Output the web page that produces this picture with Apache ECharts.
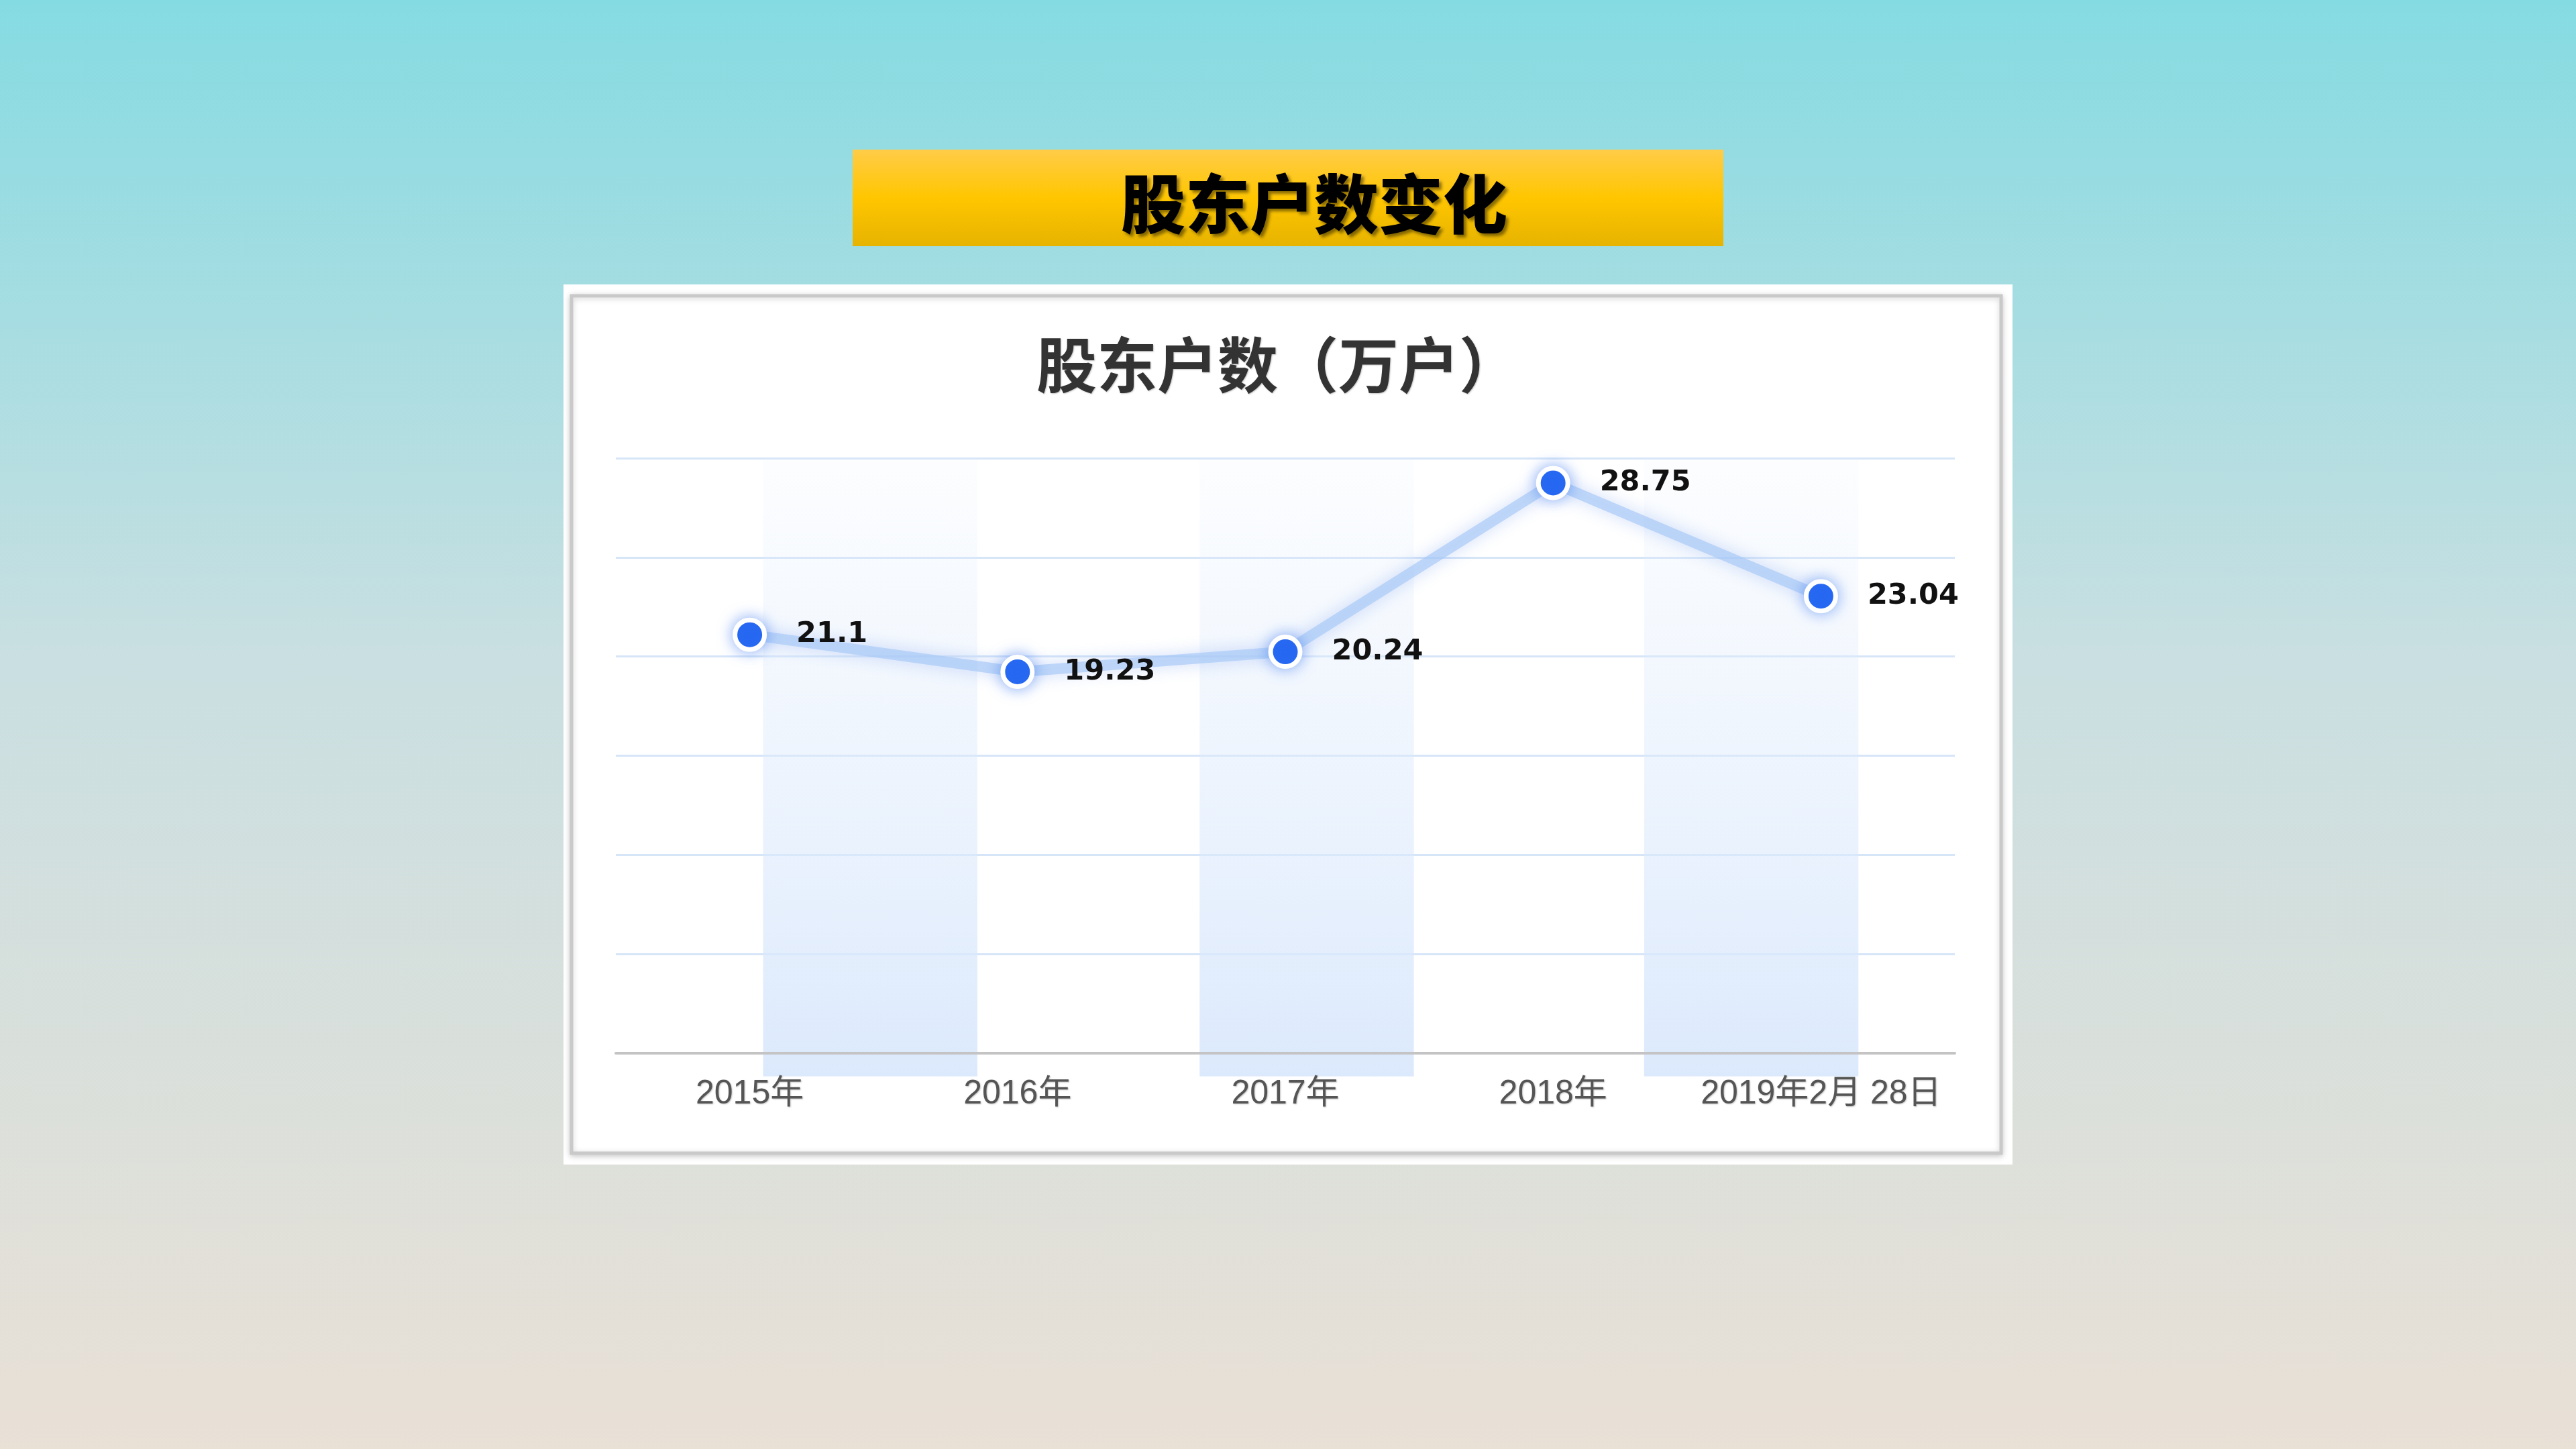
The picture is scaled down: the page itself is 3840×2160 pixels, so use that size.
<!DOCTYPE html>
<html>
<head>
<meta charset="utf-8">
<title>股东户数变化</title>
<script src="https://cdn.jsdelivr.net/npm/echarts@6/dist/echarts.min.js"></script>
<style>
  html, body { margin: 0; padding: 0; }
  #main { width: 3840px; height: 2160px; }
</style>
</head>
<body>
<div id="main"></div>
<script>
// 数据
const pageTitle = '股东户数变化';
const chartTitle = '股东户数（万户）';
const categories = ['2015年', '2016年', '2017年', '2018年', '2019年2月 28日'];
const holders = [21.1, 19.23, 20.24, 28.75, 23.04];
// 背景浅蓝色柱（按类目序号计的起止位置）
const bandRanges = [[0.05, 0.85], [1.68, 2.48], [3.34, 4.14]];
const yTicks = [0, 5, 10, 15, 20, 25, 30];

const cjk = '"Noto Sans CJK SC", "Noto Sans", sans-serif';

const chart = echarts.init(document.getElementById('main'));

chart.setOption({
  backgroundColor: new echarts.graphic.LinearGradient(0, 0, 0, 1, [
    { offset: 0, color: '#85dbe2' },
    { offset: 0.45, color: '#c9dfe1' },
    { offset: 1, color: '#e9e0d6' }
  ]),
  animation: false,
  graphic: [
    // 标题条
    {
      type: 'rect', z: 0,
      shape: { x: 1271, y: 223, width: 1298, height: 144 },
      style: {
        fill: new echarts.graphic.LinearGradient(0, 0, 0, 1, [
          { offset: 0, color: '#ffcc48' },
          { offset: 0.5, color: '#ffc600' },
          { offset: 1, color: '#e6b300' }
        ])
      }
    },
    // 白色卡片
    {
      type: 'rect', z: 0,
      shape: { x: 840, y: 424, width: 2160, height: 1312 },
      style: { fill: '#ffffff' }
    },
    {
      type: 'rect', z: 0,
      shape: { x: 852, y: 441, width: 2131, height: 1278 },
      style: {
        fill: '#ffffff', stroke: '#c9c9c9', lineWidth: 5,
        shadowBlur: 8, shadowColor: 'rgba(0,0,0,0.18)', shadowOffsetY: 2
      }
    }
  ],
  title: [
    {
      text: pageTitle,
      left: 1954, top: 299, textAlign: 'center', textVerticalAlign: 'middle',
      textStyle: {
        fontFamily: cjk, fontSize: 96, fontWeight: 900, color: '#000',
        textShadowColor: 'rgba(0,0,0,0.45)', textShadowBlur: 4,
        textShadowOffsetX: 4, textShadowOffsetY: 4
      }
    },
    {
      text: chartTitle,
      left: 1900, top: 539, textAlign: 'center', textVerticalAlign: 'middle',
      textStyle: {
        fontFamily: cjk, fontSize: 90, fontWeight: 'bold', color: '#333',
        textShadowColor: 'rgba(0,0,0,0.25)', textShadowBlur: 2,
        textShadowOffsetX: 1, textShadowOffsetY: 1
      }
    }
  ],
  grid: { left: 918, right: 926, top: 683, bottom: 590 },
  xAxis: [
    {
      type: 'category',
      data: categories,
      boundaryGap: true,
      axisTick: { show: false },
      axisLine: { lineStyle: { color: '#c4c4c4', width: 4 } },
      axisLabel: {
        interval: 0,
        hideOverlap: false,
        margin: 36,
        fontFamily: '"Liberation Sans", Arial, ' + cjk,
        fontSize: 50,
        color: '#555',
        textShadowColor: 'rgba(0,0,0,0.25)', textShadowBlur: 2,
        textShadowOffsetX: 1, textShadowOffsetY: 1
      },
      splitLine: { show: false },
      z: 3
    },
    {
      type: 'value',
      min: -0.5, max: categories.length - 0.5,
      show: false
    }
  ],
  yAxis: {
    type: 'value',
    min: yTicks[0], max: yTicks[yTicks.length - 1], interval: 5,
    axisLabel: { show: false },
    axisLine: { show: false },
    axisTick: { show: false },
    splitLine: { lineStyle: { color: '#d6e5f8', width: 3 } }
  },
  series: [
    {
      type: 'custom',
      xAxisIndex: 1,
      clip: false,
      z: 1,
      data: bandRanges,
      renderItem: function (params, api) {
        const p0 = api.coord([api.value(0), yTicks[yTicks.length - 1]]);
        const p1 = api.coord([api.value(1), -1.17]);
        return {
          type: 'rect',
          shape: { x: p0[0], y: p0[1], width: p1[0] - p0[0], height: p1[1] - p0[1] },
          style: {
            fill: new echarts.graphic.LinearGradient(0, 0, 0, 1, [
              { offset: 0, color: 'rgba(225,237,252,0.1)' },
              { offset: 1, color: 'rgba(216,231,252,0.9)' }
            ])
          }
        };
      },
      silent: true
    },
    {
      name: chartTitle,
      type: 'line',
      data: holders,
      z: 5,
      symbol: 'circle',
      symbolSize: 44,
      lineStyle: {
        color: 'rgba(170,202,246,0.7)', width: 16,
        shadowBlur: 24, shadowColor: 'rgba(90,140,235,0.45)'
      },
      itemStyle: {
        color: '#2466f2', borderColor: '#ffffff', borderWidth: 7,
        shadowBlur: 22, shadowColor: 'rgba(60,120,240,0.55)'
      },
      label: {
        show: true,
        position: 'right',
        distance: 44,
        fontFamily: '"DejaVu Sans", Verdana, sans-serif',
        fontWeight: 'bold',
        fontSize: 43,
        color: '#111'
      }
    }
  ]
});
</script>
</body>
</html>
